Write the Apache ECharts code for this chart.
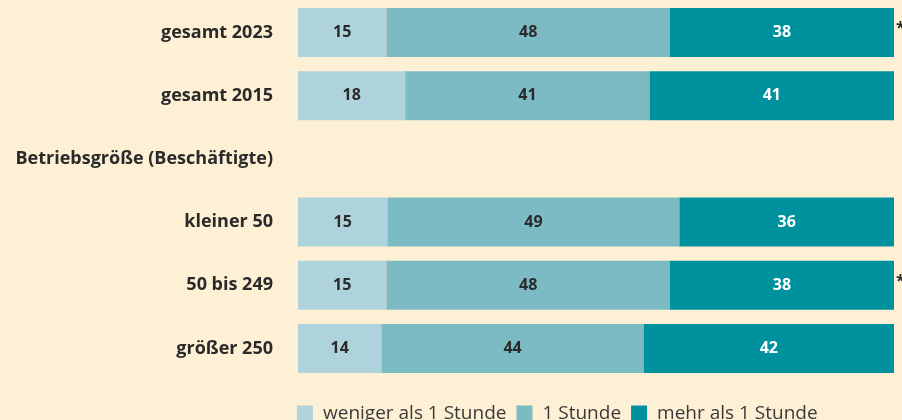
<!DOCTYPE html>
<html>
<head>
<meta charset="utf-8">
<script src="https://cdn.jsdelivr.net/npm/echarts@6/dist/echarts.min.js"></script>
<style>
  html, body { margin: 0; padding: 0; background: #fef0d5; }
  #chart { width: 902px; height: 420px; }
</style>
</head>
<body>
<div id="chart"></div>
<script>
// categories top to bottom; the empty row carries the group heading
const categories = ['gesamt 2023', 'gesamt 2015', 'Betriebsgröße (Beschäftigte)', 'kleiner 50', '50 bis 249', 'größer 250'];
const seriesNames = ['weniger als 1 Stunde', '1 Stunde', 'mehr als 1 Stunde'];
const lessThanOne = [15, 18, null, 15, 15, 14];
const oneHour = [48, 41, null, 49, 48, 44];
const moreThanOne = [38, 41, null, 36, 38, 42];
const notes = ['*', '', '', '', '*', ''];

const colors = ['#aed3dc', '#7dbbc4', '#00919e'];
const labelColors = ['#2a2a2a', '#2a2a2a', '#ffffff'];
const raw = [lessThanOne, oneHour, moreThanOne];

// bars are drawn as share of the row total (rounded sums can be 101)
const totals = categories.map((c, i) => raw.reduce((s, arr) => s + (arr[i] || 0), 0));

const series = raw.map((arr, k) => ({
    name: seriesNames[k],
    type: 'bar',
    stack: 'all',
    barWidth: 49,
    itemStyle: { color: colors[k] },
    label: {
        show: true,
        position: 'inside',
        color: labelColors[k],
        fontFamily: 'Open Sans',
        fontWeight: 'bold',
        fontSize: 16,
        formatter: p => raw[k][p.dataIndex]
    },
    data: arr.map((v, i) => v == null ? '-' : v / totals[i] * 100)
}));

series.push({
    name: 'notes',
    type: 'bar',
    stack: 'all',
    barWidth: 49,
    silent: true,
    itemStyle: { color: 'transparent' },
    label: {
        show: true,
        position: 'right',
        distance: 2,
        offset: [0, -4],
        color: '#2a2a2a',
        fontFamily: 'Open Sans',
        fontWeight: 'bold',
        fontSize: 16,
        formatter: p => notes[p.dataIndex]
    },
    data: notes.map(() => 0)
});

const chart = echarts.init(document.getElementById('chart'));
chart.setOption({
    backgroundColor: '#fef0d5',
    animation: false,
    grid: { left: 298, right: 8, top: 1, bottom: 40 },
    xAxis: {
        type: 'value',
        min: 0,
        max: 100,
        show: false
    },
    yAxis: {
        type: 'category',
        inverse: true,
        data: categories,
        axisLine: { show: false },
        axisTick: { show: false },
        axisLabel: {
            margin: 25,
            color: '#2a2a2a',
            fontFamily: 'Open Sans',
            fontWeight: 'bold',
            fontSize: 18
        }
    },
    legend: {
        data: seriesNames,
        left: 292,
        top: 399,
        itemWidth: 16,
        itemHeight: 16,
        itemGap: 10,
        icon: 'rect',
        textStyle: {
            color: '#3a3a3a',
            fontFamily: 'Open Sans',
            fontSize: 19,
            padding: [0, 0, 0, 5]
        }
    },
    series: series
});
</script>
</body>
</html>
